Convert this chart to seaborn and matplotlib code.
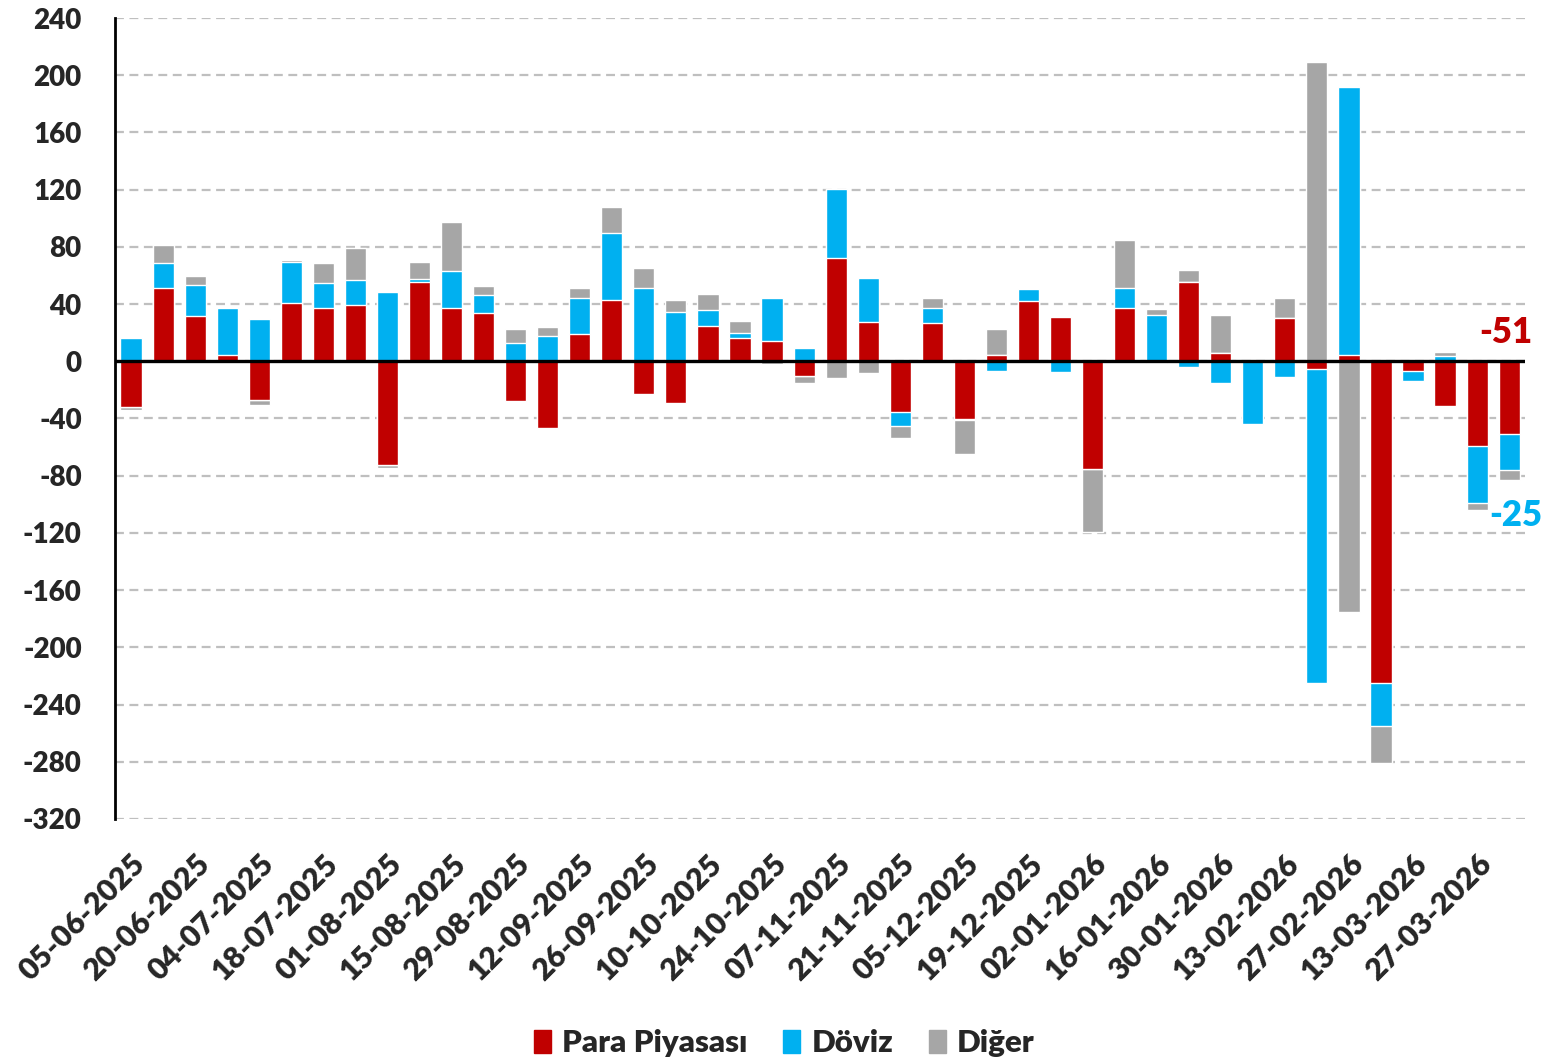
import numpy as np
import pandas as pd
import matplotlib
matplotlib.use("Agg")
import matplotlib.pyplot as plt
from matplotlib.patches import Patch
import seaborn as sns

sns.set_theme(style="white")
plt.rcParams["font.family"] = ["Lato", "DejaVu Sans"]
plt.rcParams["axes.unicode_minus"] = False

dates = ["05-06-2025", "13-06-2025", "20-06-2025", "27-06-2025", "04-07-2025", "11-07-2025",
         "18-07-2025", "25-07-2025", "01-08-2025", "08-08-2025", "15-08-2025", "22-08-2025",
         "29-08-2025", "05-09-2025", "12-09-2025", "19-09-2025", "26-09-2025", "03-10-2025",
         "10-10-2025", "17-10-2025", "24-10-2025", "31-10-2025", "07-11-2025", "14-11-2025",
         "21-11-2025", "28-11-2025", "05-12-2025", "12-12-2025", "19-12-2025", "26-12-2025",
         "02-01-2026", "09-01-2026", "16-01-2026", "23-01-2026", "30-01-2026", "06-02-2026",
         "13-02-2026", "20-02-2026", "27-02-2026", "06-03-2026", "13-03-2026", "20-03-2026",
         "27-03-2026", "03-04-2026"]

para = [-32, 51, 32, 4.5, -27, 41, 37.5, 39, -72.5, 55.5, 37, 34, -28, -47, 19, 43, -23, -29,
        25, 16, 14, -10, 72.5, 27.5, -35.5, 26.5, -40.5, 4.5, 42, 31, -75.5, 37.5, -1, 55.5,
        5.5, 0, 30.5, -5.5, 4.5, -225, -7, -31, -59, -51]
doviz = [16.5, 18, 21, 32.5, 29.5, 28.5, 17, 17.5, 48.5, 2, 26, 12.5, 12.5, 17.5, 25.5, 47,
         51.5, 34.5, 11, 3.5, 30, 9.5, 48, 31, -10, 11, -0.5, -6.5, 8.5, -7.5, 0, 14, 32.5,
         -4, -15, -44, -11, -219.5, 187.5, -30, -7, 3.5, -40, -25]
diger = [-2, 12, 6.5, 1, -3.5, 1, 14, 23, -2, 12, 34.5, 6, 10, 6.5, 7, 18, 14, 8, 11, 8.5,
         -2, -5, -11.5, -8.5, -8, 7, -24, 18, -1, -1, -44, 33.5, 4, 8, 27, -0.5, 13.5, 209,
         -175.5, -26, 0, 3, -5, -7]

series = ["Para Piyasası", "Döviz", "Diğer"]
colors = ["#C00000", "#00B0F0", "#A6A6A6"]

vals = np.array([para, doviz, diger])
pos = np.cumsum(np.clip(vals, 0, None), axis=0)
neg = np.cumsum(np.clip(vals, None, 0), axis=0)

fig = plt.figure(figsize=(15.5, 10.6), dpi=100)
ax = fig.add_axes([0.0742, 0.2274, 0.9098, 0.7556])

# draw outer layers first, inner ones on top -> stacked look
for k in [2, 1, 0]:
    for cum in (pos[k], neg[k]):
        sns.barplot(x=dates, y=cum, color=colors[k], saturation=1, width=0.66,
                    errorbar=None, ax=ax, zorder=3)

ax.axhline(0, color="black", lw=2.4, zorder=4)
ax.set_ylim(-320, 240)
ax.set_xlim(-0.5, len(dates) - 0.5)
ax.set_yticks(range(-320, 241, 40))
ax.set_yticklabels([str(v) for v in range(-320, 241, 40)], fontsize=20, fontweight="heavy")
ax.set_xticks(range(0, len(dates), 2))
ax.set_xticklabels(dates[::2], rotation=45, ha="right", rotation_mode="anchor",
                   fontsize=22, fontweight="heavy")
ax.tick_params(axis="y", length=0, pad=24)
ax.tick_params(axis="x", length=0, pad=22)
ax.set_axisbelow(True)
ax.yaxis.grid(True, linestyle=(0, (4, 2.5)), color="#BFBFBF", lw=1.6)
for s in ["top", "right", "bottom"]:
    ax.spines[s].set_visible(False)
ax.spines["left"].set_color("black")
ax.spines["left"].set_linewidth(2)
ax.set_xlabel("")
ax.set_ylabel("")

ax.text(42.9, 20, "-51", color=colors[0], fontsize=25, fontweight="heavy",
        ha="center", va="center", zorder=5)
ax.text(43.2, -107.5, "-25", color=colors[1], fontsize=25, fontweight="heavy",
        ha="center", va="center", zorder=5)

handles = [Patch(color=c) for c in colors]
fig.legend(handles, series, loc="lower center", bbox_to_anchor=(0.506, -0.024), ncol=3,
           frameon=False, handlelength=0.55, handleheight=0.75, columnspacing=1.15,
           handletextpad=0.35, prop={"size": 22.5, "weight": "heavy"})

fig.savefig("out.png", dpi=100)
